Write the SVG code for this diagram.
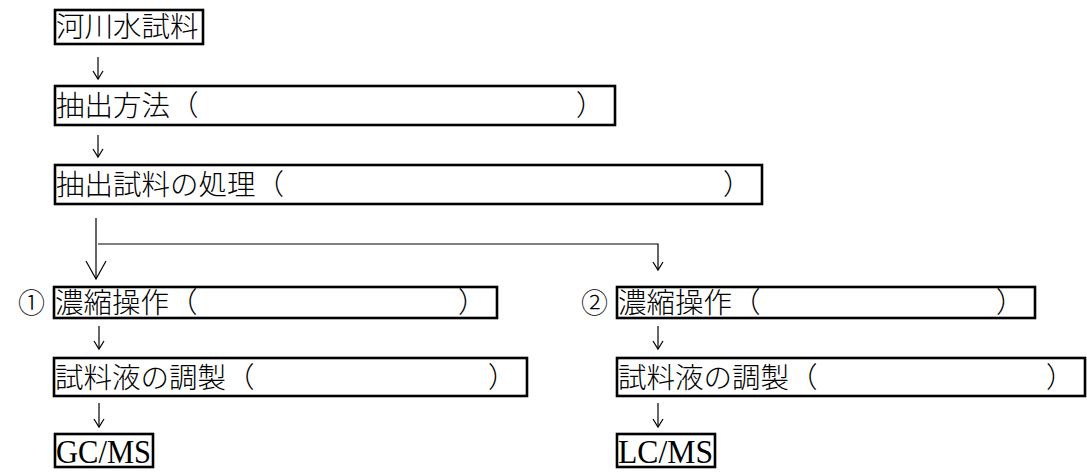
<svg xmlns="http://www.w3.org/2000/svg" width="1087" height="473" viewBox="0 0 1087 473">
<style>
.box{fill:none;stroke:#000;stroke-width:2.6}
.t{font-family:"Noto Sans CJK JP","Noto Sans CJK SC",sans-serif;font-size:28.5px;font-weight:300;fill:#000}
.s{font-family:"Liberation Serif","Noto Sans CJK JP",serif;font-size:34px;fill:#000}
.n{font-family:"Noto Sans CJK JP",serif;font-size:27px;fill:#000;font-weight:300}
.c{fill:none;stroke:#000;stroke-width:1.2}
</style>
<defs>
<marker id="sm" viewBox="-10 -6 12 12" refX="0" refY="0" markerWidth="12" markerHeight="12" markerUnits="userSpaceOnUse" orient="auto">
<path d="M-8,-5 L0,0 L-8,5" fill="none" stroke="#000" stroke-width="1.2"/>
</marker>
<marker id="lg" viewBox="-20 -12 22 24" refX="0" refY="0" markerWidth="22" markerHeight="24" markerUnits="userSpaceOnUse" orient="auto">
<path d="M-18,-10 L0,0 L-18,10" fill="none" stroke="#000" stroke-width="1.2"/>
</marker>
</defs>
<g id="connectors">
<line class="c" x1="98" y1="57" x2="98" y2="79" marker-end="url(#sm)"/>
<line class="c" x1="98" y1="135" x2="98" y2="157" marker-end="url(#sm)"/>
<line class="c" x1="96" y1="218" x2="96" y2="279" marker-end="url(#lg)"/>
<polyline class="c" points="98,244 658,244 658,270" marker-end="url(#sm)"/>
<line class="c" x1="99" y1="326" x2="99" y2="349" marker-end="url(#sm)"/>
<line class="c" x1="99" y1="403" x2="99" y2="427" marker-end="url(#sm)"/>
<line class="c" x1="658" y1="326" x2="658" y2="349" marker-end="url(#sm)"/>
<line class="c" x1="658" y1="403" x2="658" y2="427" marker-end="url(#sm)"/>
</g>
<g id="n1">
<rect class="box" x="55" y="10" width="148" height="34"/>
<text class="t" x="56" y="37">河川水試料</text>
</g>
<g id="n2">
<rect class="box" x="55" y="86" width="560" height="39"/>
<text class="t" x="56" y="116"><tspan>抽出方法（</tspan><tspan x="576">）</tspan></text>
</g>
<g id="n3">
<rect class="box" x="55" y="165" width="707" height="39"/>
<text class="t" x="56" y="195"><tspan>抽出試料の処理（</tspan><tspan x="723">）</tspan></text>
</g>
<g id="n4">
<text class="n" x="18" y="313">①</text>
<rect class="box" x="54" y="287" width="443" height="31"/>
<text class="t" x="55" y="313"><tspan>濃縮操作（</tspan><tspan x="458">）</tspan></text>
</g>
<g id="n5">
<rect class="box" x="54" y="358" width="473" height="38"/>
<text class="t" x="55" y="388"><tspan>試料液の調製（</tspan><tspan x="488">）</tspan></text>
</g>
<g id="n6">
<rect class="box" x="55" y="434" width="98" height="33"/>
<text class="s" x="56" y="463" textLength="95" lengthAdjust="spacingAndGlyphs">GC/MS</text>
</g>
<g id="n7">
<text class="n" x="581" y="313">②</text>
<rect class="box" x="617" y="287" width="418" height="31"/>
<text class="t" x="618" y="313"><tspan>濃縮操作（</tspan><tspan x="996">）</tspan></text>
</g>
<g id="n8">
<rect class="box" x="617" y="358" width="468" height="38"/>
<text class="t" x="618" y="388"><tspan>試料液の調製（</tspan><tspan x="1046">）</tspan></text>
</g>
<g id="n9">
<rect class="box" x="617" y="434" width="98" height="33"/>
<text class="s" x="618" y="463" textLength="95" lengthAdjust="spacingAndGlyphs">LC/MS</text>
</g>
</svg>
